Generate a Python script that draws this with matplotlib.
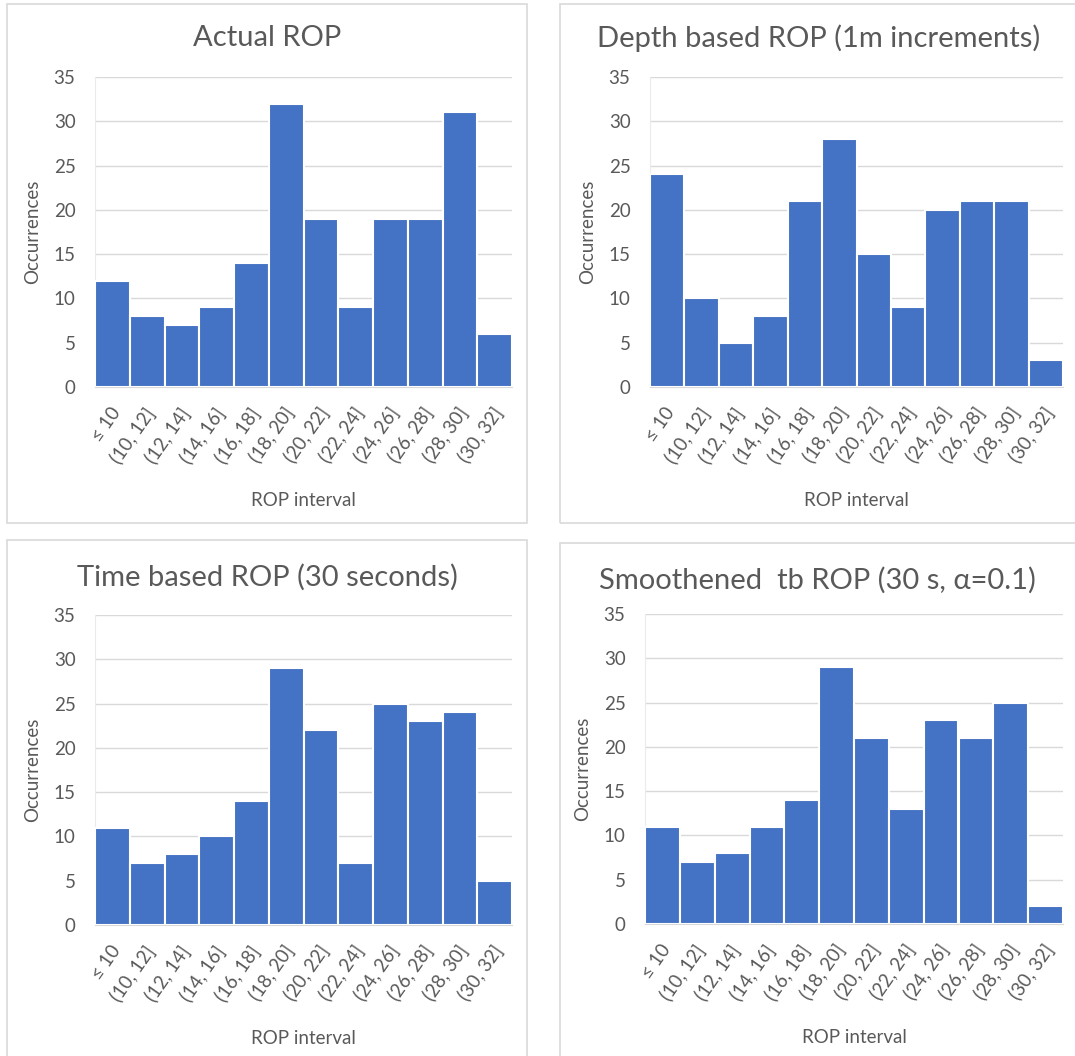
import matplotlib.pyplot as plt
from matplotlib.patches import Rectangle
import numpy as np

plt.rcParams['font.family'] = ['Lato', 'DejaVu Sans']

intervalos = ['≤ 10', '(10, 12]', '(12, 14]', '(14, 16]', '(16, 18]', '(18, 20]',
              '(20, 22]', '(22, 24]', '(24, 26]', '(26, 28]', '(28, 30]', '(30, 32]']

actual = [12, 8, 7, 9, 14, 32, 19, 9, 19, 19, 31, 6]
depth_based = [24, 10, 5, 8, 21, 28, 15, 9, 20, 21, 21, 3]
time_based = [11, 7, 8, 10, 14, 29, 22, 7, 25, 23, 24, 5]
smoothened = [11, 7, 8, 11, 14, 29, 21, 13, 23, 21, 25, 2]

titulos = ['Actual ROP', 'Depth based ROP (1m increments)',
           'Time based ROP (30 seconds)', 'Smoothened  tb ROP (30 s, α=0.1)']

W, H = 1075, 1056
fig = plt.figure(figsize=(W / 100, H / 100), dpi=100)

# caixas dos paineis (pixels: x0, y0, x1, y1)
caixas = [(7, 4, 527, 523), (560, 4, 1080, 523), (7, 540, 527, 1060), (560, 543, 1080, 1060)]
# area dos eixos (pixels)
eixos_px = [(95, 77, 512, 387), (650, 77, 1063, 387), (95, 615, 512, 925), (645, 614, 1063, 924)]
# posicao dos titulos (centro x, y) em pixels
titulos_px = [(267, 38), (819, 38), (267, 577), (817, 580)]

cor_barra = '#4472C4'
cinza_txt = '#595959'
cinza_grid = '#D9D9D9'

for k, dados in enumerate([actual, depth_based, time_based, smoothened]):
    bx0, by0, bx1, by1 = caixas[k]
    fig.patches.append(Rectangle((bx0 / W, 1 - by1 / H), (bx1 - bx0) / W, (by1 - by0) / H,
                                 transform=fig.transFigure, fill=False,
                                 edgecolor='#D9D9D9', linewidth=1.2))
    x0, y0, x1, y1 = eixos_px[k]
    ax = fig.add_axes([x0 / W, 1 - y1 / H, (x1 - x0) / W, (y1 - y0) / H])
    pos = np.arange(len(intervalos))
    ax.bar(pos, dados, width=1.0, color=cor_barra, edgecolor='white', linewidth=1.5, zorder=3)
    ax.set_xlim(-0.5, len(intervalos) - 0.5)
    ax.set_ylim(0, 35)
    ax.set_yticks(range(0, 36, 5))
    ax.set_xticks(pos + 0.12)
    ax.set_xticklabels(intervalos, rotation=55, ha='right', va='center', rotation_mode='anchor')
    ax.grid(axis='y', color=cinza_grid, linewidth=1, zorder=0)
    for s in ['top', 'right']:
        ax.spines[s].set_visible(False)
    ax.spines['left'].set_color('#EBEBEB')
    ax.spines['left'].set_linewidth(0.8)
    ax.spines['bottom'].set_color(cinza_grid)
    ax.tick_params(axis='both', length=0, labelsize=13.5, labelcolor=cinza_txt)
    ax.tick_params(axis='y', pad=14)
    ax.tick_params(axis='x', pad=16)
    ax.set_ylabel('Occurrences', fontsize=13.5, color=cinza_txt, labelpad=9)
    ax.set_xlabel('ROP interval', fontsize=13.5, color=cinza_txt, labelpad=18)
    tx, ty = titulos_px[k]
    fig.text(tx / W, 1 - ty / H, titulos[k], fontsize=21, color=cinza_txt,
             ha='center', va='center')

plt.savefig('out.png', dpi=100, facecolor='white')
